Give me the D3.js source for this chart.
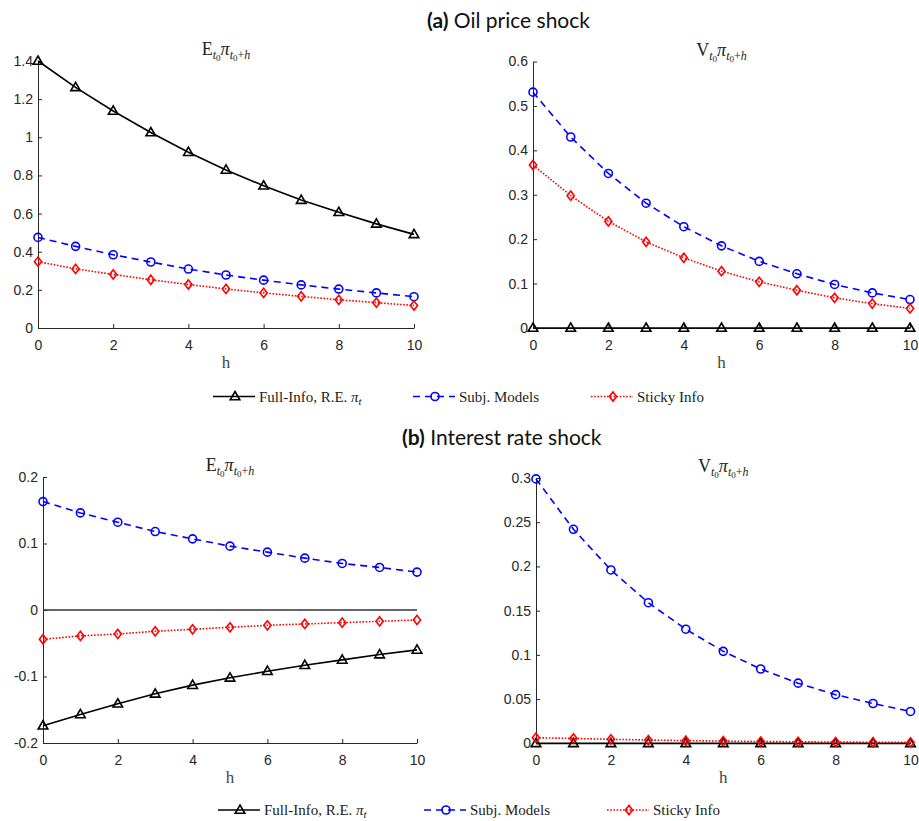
<!DOCTYPE html>
<html>
<head>
<meta charset="utf-8">
<script src="https://cdn.jsdelivr.net/npm/d3@7"></script>
<style>
  body { margin: 0; background: #fff; }
  svg { display: block; }
</style>
</head>
<body>
<svg id="fig" width="919" height="821"></svg>
<script>
// horizons h = 0..10
const horizons = [0, 1, 2, 3, 4, 5, 6, 7, 8, 9, 10];

// (a) oil price shock
const oilMeanFull   = [1.40, 1.262, 1.138, 1.025, 0.922, 0.829, 0.746, 0.671, 0.607, 0.546, 0.491];
const oilMeanSubj   = [0.475, 0.428, 0.384, 0.346, 0.309, 0.278, 0.251, 0.226, 0.204, 0.184, 0.164];
const oilMeanSticky = [0.348, 0.310, 0.281, 0.253, 0.228, 0.205, 0.184, 0.166, 0.148, 0.133, 0.118];
const oilVarFull    = [0, 0, 0, 0, 0, 0, 0, 0, 0, 0, 0];
const oilVarSubj    = [0.531, 0.430, 0.348, 0.281, 0.228, 0.185, 0.150, 0.122, 0.098, 0.079, 0.064];
const oilVarSticky  = [0.367, 0.298, 0.240, 0.194, 0.158, 0.128, 0.104, 0.085, 0.068, 0.055, 0.044];

// (b) interest rate shock
const rateMeanFull   = [-0.174, -0.157, -0.141, -0.126, -0.113, -0.102, -0.092, -0.083, -0.075, -0.067, -0.060];
const rateMeanSubj   = [0.163, 0.146, 0.132, 0.118, 0.107, 0.096, 0.087, 0.078, 0.070, 0.064, 0.057];
const rateMeanSticky = [-0.044, -0.039, -0.036, -0.032, -0.029, -0.026, -0.023, -0.021, -0.019, -0.017, -0.015];
const rateVarFull    = [0, 0, 0, 0, 0, 0, 0, 0, 0, 0, 0];
const rateVarSubj    = [0.299, 0.242, 0.196, 0.159, 0.129, 0.104, 0.084, 0.068, 0.055, 0.045, 0.036];
const rateVarSticky  = [0.0063, 0.0055, 0.0045, 0.0037, 0.003, 0.0025, 0.002, 0.0017, 0.0014, 0.0012, 0.001];

// tick values
const xTicks = [0, 2, 4, 6, 8, 10];
const oilMeanTicks  = [0, 0.2, 0.4, 0.6, 0.8, 1, 1.2, 1.4];
const oilVarTicks   = [0, 0.1, 0.2, 0.3, 0.4, 0.5, 0.6];
const rateMeanTicks = [-0.2, -0.1, 0, 0.1, 0.2];
const rateVarTicks  = [0, 0.05, 0.1, 0.15, 0.2, 0.25, 0.3];

const seriesNames = ["Full-Info, R.E. ", "Subj. Models", "Sticky Info"];

const svg = d3.select("#fig");
const axisColor = "#262626";

const styles = [
  { color: "#000", dash: null, marker: "tri" },
  { color: "#0000ff", dash: "7,5", marker: "circ" },
  { color: "#ff0000", dash: "1.6,1.6", marker: "diam" }
];

function drawMarker(g, kind, color, cx, cy) {
  if (kind === "circ") {
    g.append("circle").attr("cx", cx).attr("cy", cy).attr("r", 4)
      .attr("fill", "none").attr("stroke", color).attr("stroke-width", 1.6);
  } else if (kind === "tri") {
    g.append("path")
      .attr("d", `M${cx},${cy - 5}L${cx + 4.8},${cy + 3.3}L${cx - 4.8},${cy + 3.3}Z`)
      .attr("fill", "none").attr("stroke", color).attr("stroke-width", 1.6);
  } else {
    g.append("path")
      .attr("d", `M${cx},${cy - 4.6}L${cx + 3.6},${cy}L${cx},${cy + 4.6}L${cx - 3.6},${cy}Z`)
      .attr("fill", "none").attr("stroke", color).attr("stroke-width", 1.6);
  }
}

function mathTitle(g, letter, cx, cy) {
  const t = g.append("text")
    .attr("x", cx).attr("y", cy)
    .attr("text-anchor", "middle")
    .attr("font-family", "Liberation Serif, serif")
    .attr("font-size", 18)
    .attr("fill", "#222");
  t.append("tspan").text(letter);
  t.append("tspan").attr("dy", 4).attr("font-size", 12).attr("font-style", "italic").text("t");
  t.append("tspan").attr("dy", 2).attr("font-size", 9).text("0");
  t.append("tspan").attr("dy", -6).attr("font-size", 18).attr("font-style", "italic").text("π");
  t.append("tspan").attr("dy", 4).attr("font-size", 12).attr("font-style", "italic").text("t");
  t.append("tspan").attr("dy", 2).attr("font-size", 9).text("0");
  t.append("tspan").attr("dy", -2).attr("font-size", 12).text("+");
  t.append("tspan").attr("font-size", 12).attr("font-style", "italic").text("h");
}

function fmt(d) { return String(+d.toFixed(3)); }

function drawPanel(p) {
  const x = d3.scaleLinear().domain([0, 10]).range([p.left, p.right]);
  const y = d3.scaleLinear().domain(p.yDomain).range([p.bottom, p.top]);
  const g = svg.append("g");

  const xAxis = g.append("g")
    .attr("transform", `translate(0,${p.bottom})`)
    .call(d3.axisBottom(x).tickValues(xTicks).tickSizeInner(-4).tickSizeOuter(0).tickPadding(12).tickFormat(fmt));
  const yAxis = g.append("g")
    .attr("transform", `translate(${p.left},0)`)
    .call(d3.axisLeft(y).tickValues(p.yTicks).tickSizeInner(-4).tickSizeOuter(0).tickPadding(5).tickFormat(fmt));

  [xAxis, yAxis].forEach(a => {
    a.select(".domain").attr("stroke", axisColor);
    a.selectAll(".tick line").attr("stroke", axisColor);
    a.selectAll("text").attr("fill", axisColor)
      .attr("font-family", "Liberation Sans, Arial, sans-serif").attr("font-size", 14);
  });

  if (p.zeroLine) {
    g.append("line")
      .attr("x1", x(0)).attr("x2", x(10))
      .attr("y1", y(0)).attr("y2", y(0))
      .attr("stroke", "#333").attr("stroke-width", 1.3);
  }

  const line = d3.line().x((d, i) => x(horizons[i])).y(d => y(d));

  p.series.forEach((vals, k) => {
    const s = styles[k];
    g.append("path")
      .attr("d", line(vals))
      .attr("fill", "none")
      .attr("stroke", s.color)
      .attr("stroke-width", 1.6)
      .attr("stroke-dasharray", s.dash);
    vals.forEach((v, i) => drawMarker(g, s.marker, s.color, x(horizons[i]), y(v)));
  });

  mathTitle(g, p.letter, (p.left + p.right) / 2, p.top - 6);

  g.append("text")
    .attr("x", (p.left + p.right) / 2)
    .attr("y", p.bottom + 40)
    .attr("text-anchor", "middle")
    .attr("font-family", "Liberation Serif, serif")
    .attr("font-size", 17)
    .attr("fill", "#444")
    .text("h");
}

function drawLegend(ly, starts) {
  const g = svg.append("g");
  starts.forEach((x0, k) => {
    const s = styles[k];
    g.append("line")
      .attr("x1", x0).attr("x2", x0 + 42)
      .attr("y1", ly).attr("y2", ly)
      .attr("stroke", s.color).attr("stroke-width", 1.6)
      .attr("stroke-dasharray", s.dash);
    drawMarker(g, s.marker, s.color, x0 + 22, ly);
    const t = g.append("text")
      .attr("x", x0 + 46).attr("y", ly + 5)
      .attr("font-family", "Liberation Serif, serif")
      .attr("font-size", 15)
      .attr("fill", "#222")
      .text(seriesNames[k]);
    if (k === 0) {
      t.append("tspan").attr("font-style", "italic").text("π");
      t.append("tspan").attr("dy", 3).attr("font-size", 11).attr("font-style", "italic").text("t");
    }
  });
}

function caption(x0, yb, tag, label) {
  const t = svg.append("text")
    .attr("x", x0).attr("y", yb)
    .attr("font-family", "Lato, 'Open Sans', sans-serif")
    .attr("font-size", 21)
    .attr("fill", "#111");
  t.append("tspan").attr("font-weight", "bold").text(tag);
  t.append("tspan").text(" " + label);
}

caption(427, 28, "(a)", "Oil price shock");
caption(402, 445, "(b)", "Interest rate shock");

drawPanel({ left: 38, right: 414, top: 61, bottom: 328, yDomain: [0, 1.4], yTicks: oilMeanTicks,
  letter: "E", series: [oilMeanFull, oilMeanSubj, oilMeanSticky] });
drawPanel({ left: 533, right: 910, top: 61.5, bottom: 328, yDomain: [0, 0.6], yTicks: oilVarTicks,
  letter: "V", series: [oilVarFull, oilVarSubj, oilVarSticky] });
drawPanel({ left: 43, right: 417, top: 477, bottom: 743, yDomain: [-0.2, 0.2], yTicks: rateMeanTicks,
  letter: "E", series: [rateMeanFull, rateMeanSubj, rateMeanSticky], zeroLine: true });
drawPanel({ left: 536, right: 910.5, top: 478, bottom: 743.3, yDomain: [0, 0.3], yTicks: rateVarTicks,
  letter: "V", series: [rateVarFull, rateVarSubj, rateVarSticky] });

drawLegend(396.5, [213, 413, 591]);
drawLegend(810, [218, 424, 607]);
</script>
</body>
</html>
